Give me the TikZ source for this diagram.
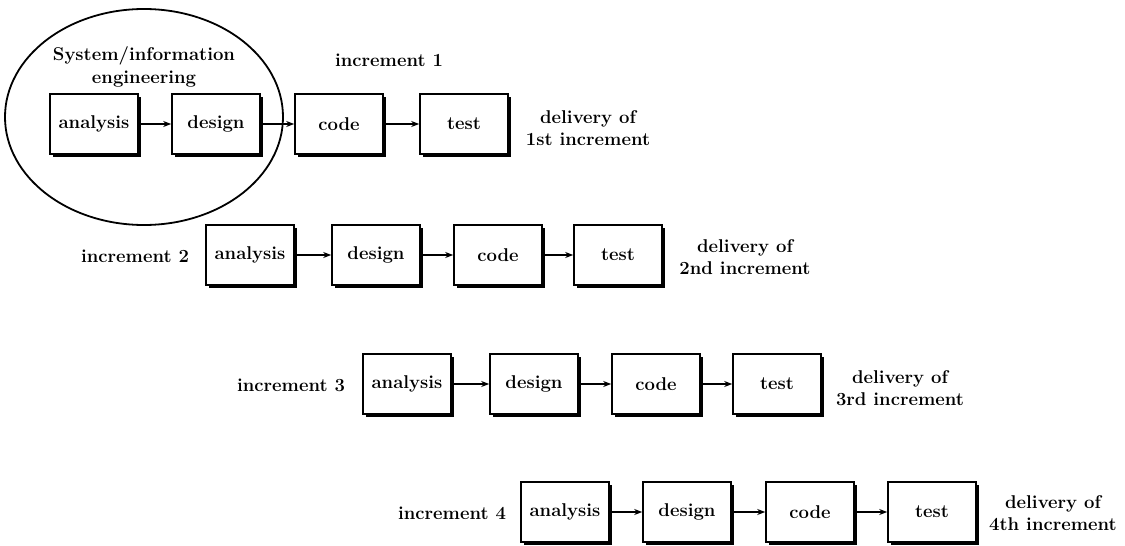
\documentclass[tikz,border=0pt]{standalone}
\usetikzlibrary{shadows,arrows.meta,shapes.geometric}
\begin{document}
\begin{tikzpicture}[x=1pt,y=-1pt,
  every node/.style={font=\fontsize{18.5}{22.5}\selectfont\bfseries},
  stagebox/.style={draw=black, line width=1.6pt, fill=white, minimum width=88pt, minimum height=60pt, inner sep=0pt,
    general shadow={fill=black, shadow xshift=2.6pt, shadow yshift=-2.6pt}},
  lbl/.style={align=center, inner sep=0pt},
  flow/.style={line width=1.3pt, -{Stealth[length=8pt,width=6pt]}}
]
\useasboundingbox (0,0) rectangle (1125,546);

% ellipse
\node[draw, line width=1.8pt, ellipse, minimum width=278pt, minimum height=216pt, inner sep=0pt] (sys) at (144,117) {};
\node[lbl] (syslbl) at (144,67) {System/information\\engineering};

% row 1
\node[lbl] (inc1) at (389,60) {increment 1};
\node[stagebox] (a1) at (94,124) {analysis};
\node[stagebox] (d1) at (216,124) {design};
\node[stagebox] (c1) at (339,124) {code};
\node[stagebox] (t1) at (464,124) {test};
\node[lbl] (del1) at (588,128) {delivery of\\1st increment};
\draw[flow] (a1) -- (d1);
\draw[flow] (d1) -- (c1);
\draw[flow] (c1) -- (t1);

% row 2
\node[lbl] (inc2) at (135,256) {increment 2};
\node[stagebox] (a2) at (250,255) {analysis};
\node[stagebox] (d2) at (376,255) {design};
\node[stagebox] (c2) at (498,255) {code};
\node[stagebox] (t2) at (618,255) {test};
\node[lbl] (del2) at (745,257) {delivery of\\2nd increment};
\draw[flow] (a2) -- (d2);
\draw[flow] (d2) -- (c2);
\draw[flow] (c2) -- (t2);

% row 3
\node[lbl] (inc3) at (291,385) {increment 3};
\node[stagebox] (a3) at (407,384) {analysis};
\node[stagebox] (d3) at (534,384) {design};
\node[stagebox] (c3) at (656,384) {code};
\node[stagebox] (t3) at (777,384) {test};
\node[lbl] (del3) at (900,388) {delivery of\\3rd increment};
\draw[flow] (a3) -- (d3);
\draw[flow] (d3) -- (c3);
\draw[flow] (c3) -- (t3);

% row 4
\node[lbl] (inc4) at (452,513) {increment 4};
\node[stagebox] (a4) at (565,512) {analysis};
\node[stagebox] (d4) at (687,512) {design};
\node[stagebox] (c4) at (810,512) {code};
\node[stagebox] (t4) at (932,512) {test};
\node[lbl] (del4) at (1053,513) {delivery of\\4th increment};
\draw[flow] (a4) -- (d4);
\draw[flow] (d4) -- (c4);
\draw[flow] (c4) -- (t4);
\end{tikzpicture}
\end{document}
